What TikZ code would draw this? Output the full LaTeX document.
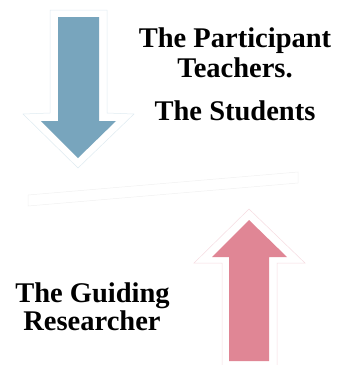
\documentclass[tikz,border=0pt]{standalone}
\usepackage{fontspec}
\setmainfont{Liberation Serif}
\definecolor{arrowblue}{HTML}{78A5BD}
\definecolor{arrowblueedge}{HTML}{DFEBF1}
\definecolor{arrowpink}{HTML}{E08695}
\definecolor{arrowpinkedge}{HTML}{F6DCE1}
\definecolor{bandedge}{HTML}{F0F0F0}
\begin{document}
\begin{tikzpicture}[x=1pt,y=-1pt,
  lbl/.style={font=\fontsize{28.5}{30}\selectfont\bfseries, inner sep=0pt, anchor=base},
  halo/.style={fill=white, line width=0.5pt, line join=miter},
]
\useasboundingbox (0,0) rectangle (337,365);
% band
\draw[bandedge, line width=0.5pt] (28,195) -- (298,172) -- (298,183) -- (28,206) -- cycle;
% blue down arrow
\draw[halo, draw=arrowblueedge] (50,10) -- (107,10) -- (107,113) -- (134,114) -- (78,168) -- (23,114) -- (50,113) -- cycle;
\fill[arrowblue] (58,17) -- (99,17) -- (99,121) -- (116,121) -- (78,158) -- (41,121) -- (58,121) -- cycle;
% pink up arrow
\draw[halo, draw=arrowpinkedge] (249,209) -- (305,263) -- (277,263) -- (277,366) -- (222,366) -- (222,263) -- (194,263) -- cycle;
\fill[arrowpink] (249,220) -- (287,257) -- (269,257) -- (269,361) -- (229,361) -- (229,257) -- (212,257) -- cycle;
% labels
\node[lbl] (p1) at (235,47) {The Participant};
\node[lbl] (p2) at (235,77) {Teachers.};
\node[lbl] (s)  at (235,120) {The Students};
\node[lbl] (g1) at (92.5,302) {The Guiding};
\node[lbl] (g2) at (92,330) {Researcher};
\end{tikzpicture}
\end{document}
